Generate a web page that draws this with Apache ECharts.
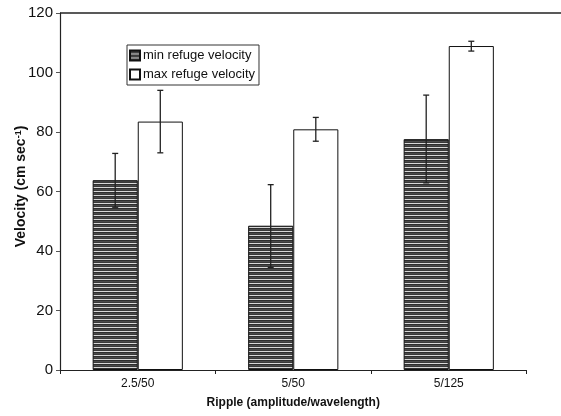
<!DOCTYPE html>
<html><head><meta charset="utf-8">
<script src="https://cdn.jsdelivr.net/npm/echarts@6/dist/echarts.min.js"></script>
<style>html,body{margin:0;padding:0;background:#fff}#c{width:561px;height:416px}</style>
</head><body><div id="c"></div>
<script>
const categories = ['2.5/50', '5/50', '5/125'];
const minVelocity = [63.8, 48.5, 77.6];
const minErrLow = [54.7, 34.5, 62.9];
const minErrHigh = [72.8, 62.3, 92.4];
const maxVelocity = [83.5, 80.9, 108.9];
const maxErrLow = [73.0, 76.9, 107.2];
const maxErrHigh = [94.0, 84.9, 110.5];
const yTicks = [0, 20, 40, 60, 80, 100, 120];

const pc = document.createElement('canvas');
pc.width = 4; pc.height = 4;
const px = pc.getContext('2d');
['#2e2e2e', '#4a4a4a', '#3a3a3a', '#d8d8d8'].forEach((c, i) => { px.fillStyle = c; px.fillRect(0, i, 4, 1); });
const hatch = { image: pc, repeat: 'repeat' };

const chart = echarts.init(document.getElementById('c'), null, { renderer: 'canvas' });
const FONT = 'Liberation Sans, Arial, sans-serif';

function errSeries(name, low, high, seriesIdx) {
  return {
    type: 'custom', name: name + ' err', z: 10,
    data: categories.map((c, i) => [i, low[i], high[i]]),
    renderItem: function (params, api) {
      const i = api.value(0);
      const lo = api.coord([i, api.value(1)]);
      const hi = api.coord([i, api.value(2)]);
      const size = api.size([1, 0]);
      const bw = size[0] * 0.29;
      const x = lo[0] + (seriesIdx === 0 ? -bw / 2 : bw / 2);
      const cap = 3;
      const st = { stroke: '#222', lineWidth: 1.3 };
      return { type: 'group', children: [
        { type: 'line', shape: { x1: x, y1: lo[1], x2: x, y2: hi[1] }, style: st },
        { type: 'line', shape: { x1: x - cap, y1: lo[1], x2: x + cap, y2: lo[1] }, style: st },
        { type: 'line', shape: { x1: x - cap, y1: hi[1], x2: x + cap, y2: hi[1] }, style: st }
      ] };
    }
  };
}

chart.setOption({
  animation: false,
  backgroundColor: '#fff',
  grid: { left: 60, top: 13, right: 34.5, bottom: 46 },
  legend: {
    show: true, left: 127, top: 45, orient: 'vertical',
    data: [{ name: 'min refuge velocity', icon: 'rect' }, { name: 'max refuge velocity', icon: 'rect' }],
    itemWidth: 10, itemHeight: 10, itemGap: 6,
    padding: [4, 4, 4, 2],
    borderColor: '#333', borderWidth: 1,
    textStyle: { fontFamily: FONT, fontSize: 13, color: '#111', padding: [0, 0, 0, -2] }
  },
  xAxis: {
    type: 'category', data: categories,
    axisLine: { lineStyle: { color: '#222', width: 1.2 } },
    axisTick: { show: true, length: 4, lineStyle: { color: '#222' } },
    axisLabel: { fontFamily: FONT, fontSize: 12, color: '#111', margin: 8 },
    name: 'Ripple (amplitude/wavelength)', nameLocation: 'middle', nameGap: 27,
    nameMoveOverlap: false,
    nameTextStyle: { fontFamily: FONT, fontSize: 12, fontWeight: 'bold', color: '#111' }
  },
  yAxis: {
    type: 'value', min: 0, max: 120, interval: 20,
    axisLine: { show: true, lineStyle: { color: '#222', width: 1.2 } },
    axisTick: { show: true, length: 4, lineStyle: { color: '#555' } },
    splitLine: { show: false },
    axisLabel: { fontFamily: FONT, fontSize: 15, color: '#111', margin: 7,
      formatter: v => yTicks.includes(v) ? String(v) : '' },
    name: 'Velocity (cm sec{sup|-1})', nameLocation: 'middle', nameGap: 31,
    nameMoveOverlap: false,
    nameTextStyle: { fontFamily: FONT, fontSize: 14, fontWeight: 'bold', color: '#111', padding: [0, 0, 0, 10],
      rich: { sup: { fontFamily: FONT, fontSize: 9, fontWeight: 'bold', color: '#111', verticalAlign: 'top', padding: [0, 0, 6, 0] } } }
  },
  graphic: [
    { type: 'line', z: 100, shape: { x1: 60, y1: 13, x2: 561, y2: 13 }, style: { stroke: '#222', lineWidth: 1.3 } }
  ],
  series: [
    { name: 'min refuge velocity', type: 'bar', data: minVelocity, barWidth: '29%', barGap: '0%',
      itemStyle: { color: hatch, borderColor: '#111', borderWidth: 1 } },
    { name: 'max refuge velocity', type: 'bar', data: maxVelocity, barWidth: '29%', barGap: '0%',
      itemStyle: { color: '#fff', borderColor: '#111', borderWidth: 1 } },
    errSeries('min', minErrLow, minErrHigh, 0),
    errSeries('max', maxErrLow, maxErrHigh, 1)
  ]
});
</script></body></html>
